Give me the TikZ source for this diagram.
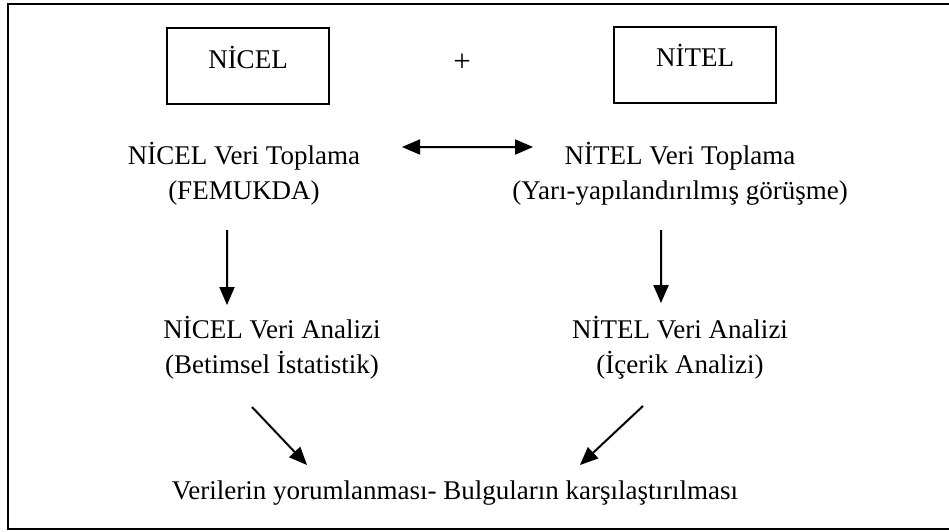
\documentclass[tikz,border=0pt]{standalone}
\usepackage{fontspec}
\setmainfont{Liberation Serif}
\usetikzlibrary{arrows.meta}
\tikzset{
  txt/.style={font=\fontsize{27}{35}\selectfont, align=center, inner sep=0pt},
  box/.style={draw, line width=1.6pt, minimum width=162pt, minimum height=76pt, inner sep=0pt},
  tip/.tip={Triangle[length=18pt,width=15pt]},
  arr/.style={line width=1.8pt, -tip},
  darr/.style={line width=1.6pt, tip-tip},
  shad/.style={draw=black!15, line width=3pt, -tip, shift={(2pt,-2.5pt)}},
  dshad/.style={draw=black!15, line width=3pt, tip-tip, shift={(2pt,-2.5pt)}}
}
\begin{document}
\begin{tikzpicture}[x=1pt,y=-1pt]
\useasboundingbox (0,0) rectangle (949,531);
\fill[white] (0,0) rectangle (949,531);
% outer frame
\begin{scope}
\clip (0,0) rectangle (949,531);
\draw[line width=2pt] (7.5,3.5) rectangle (960,529);
\end{scope}

\node[box, label={[txt,yshift=9pt]center:NİCEL}] (nicel) at (248,66) {};
\node[box, label={[txt,yshift=10pt]center:NİTEL}] (nitel) at (695,65) {};
\node[txt, font=\fontsize{31}{35}\selectfont] (plus) at (462,63) {+};

\node[txt] (nvt) at (244,174) {NİCEL Veri Toplama\\(FEMUKDA)};
\node[txt] (tvt) at (680,174) {NİTEL Veri Toplama\\(Yarı-yapılandırılmış görüşme)};
\node[txt] (nva) at (272,348) {NİCEL Veri Analizi\\(Betimsel İstatistik)};
\node[txt] (tva) at (680,348) {NİTEL Veri Analizi\\(İçerik Analizi)};
\node[txt] (son) at (455,493) {Verilerin yorumlanması- Bulguların karşılaştırılması};

\coordinate (d1) at (402,147);
\coordinate (d2) at (533,147);
\coordinate (l1) at (227,230);
\coordinate (l2) at (227,305);
\coordinate (r1) at (661,230);
\coordinate (r2) at (661,303);
\coordinate (a1) at (252,407);
\coordinate (a2) at (307,465);
\coordinate (b1) at (643,406);
\coordinate (b2) at (580,465);

\draw[dshad] (d1) -- (d2);
\draw[shad] (l1) -- (l2);
\draw[shad] (r1) -- (r2);
\draw[shad] (a1) -- (a2);
\draw[shad] (b1) -- (b2);

\draw[darr] (d1) -- (d2);
\draw[arr] (l1) -- (l2);
\draw[arr] (r1) -- (r2);
\draw[arr] (a1) -- (a2);
\draw[arr] (b1) -- (b2);
\end{tikzpicture}
\end{document}
